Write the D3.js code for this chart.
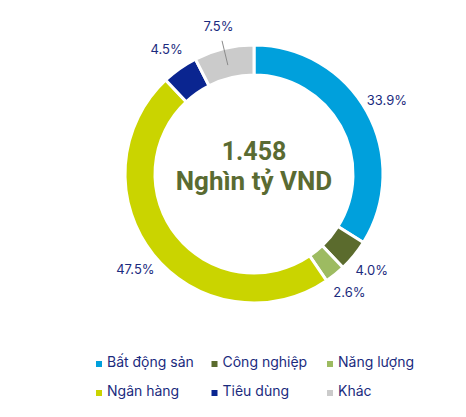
<!DOCTYPE html>
<html>
<head>
<meta charset="utf-8">
<script src="https://cdn.jsdelivr.net/npm/d3@7"></script>
<style>
    body { margin: 0; background: #fff; }
    svg { display: block; }
    text { font-family: Inter, "Noto Sans", sans-serif; }
</style>
</head>
<body>
<svg id="chart" width="466" height="417"></svg>
<script>
const categories = ['Bất động sản', 'Công nghiệp', 'Năng lượng', 'Ngân hàng', 'Tiêu dùng', 'Khác'];
const shares = [33.9, 4.0, 2.6, 47.5, 4.5, 7.5];
const colors = ['#00a0dc', '#5b6b2d', '#9dbb61', '#cad400', '#0a2590', '#cbcbcb'];
const centerLines = ['1.458', 'Nghìn tỷ VND'];

const cx = 254;
const cy = 174;
const outerR = 129;
const innerR = 99;
const labelR = 152;
const navy = '#1b2b7e';

const svg = d3.select('#chart');

const pie = d3.pie().sort(null).value((d) => d.value);
const data = pie(categories.map((name, i) => ({ name, value: shares[i], color: colors[i] })));

const arc = d3.arc().innerRadius(innerR).outerRadius(outerR);
const labelArc = d3.arc().innerRadius(labelR).outerRadius(labelR);

const g = svg.append('g').attr('transform', `translate(${ cx }, ${ cy })`);

g.selectAll('.slice')
    .data(data)
    .enter()
    .append('path')
    .attr('class', 'slice')
    .attr('d', arc)
    .style('fill', (d) => d.data.color)
    .style('stroke', '#fff')
    .style('stroke-width', 3);

// leader line for the small grey slice
const khac = data[5];
const mid = (khac.startAngle + khac.endAngle) / 2;
g.append('line')
    .attr('x1', Math.sin(mid) * 137)
    .attr('y1', -Math.cos(mid) * 137)
    .attr('x2', Math.sin(mid) * 112)
    .attr('y2', -Math.cos(mid) * 112)
    .style('stroke', '#8a8a8a')
    .style('stroke-width', 1);

g.selectAll('.pct')
    .data(data)
    .enter()
    .append('text')
    .attr('class', 'pct')
    .attr('transform', (d) => `translate(${ labelArc.centroid(d) })`)
    .attr('dy', '0.35em')
    .style('text-anchor', 'middle')
    .style('font-size', '13px')
    .style('fill', navy)
    .text((d) => `${ d.data.value.toFixed(1) }%`);

// center label
g.selectAll('.center')
    .data(centerLines)
    .enter()
    .append('text')
    .attr('class', 'center')
    .attr('x', 0)
    .attr('y', (d, i) => -14 + i * 30)
    .style('text-anchor', 'middle')
    .style('font-family', 'Roboto, sans-serif')
    .style('font-weight', 'bold')
    .style('font-size', (d, i) => (i === 0 ? '25px' : '26px'))
    .style('fill', '#5a6b32')
    .text((d) => d);

// legend, 3 columns x 2 rows
const colX = d3.scalePoint().domain([0, 1, 2]).range([96, 327]);
const rowY = d3.scalePoint().domain([0, 1]).range([367, 396]);

const legend = svg.selectAll('.legend')
    .data(categories)
    .enter()
    .append('g')
    .attr('class', 'legend')
    .attr('transform', (d, i) => `translate(${ colX(i % 3) }, ${ rowY(Math.floor(i / 3)) })`);

legend.append('rect')
    .attr('x', 0)
    .attr('y', -6)
    .attr('width', 6)
    .attr('height', 6)
    .style('fill', (d, i) => colors[i]);

legend.append('text')
    .attr('x', 11)
    .attr('y', 0)
    .style('font-size', '14px')
    .style('fill', navy)
    .text((d) => d);
</script>
</body>
</html>
